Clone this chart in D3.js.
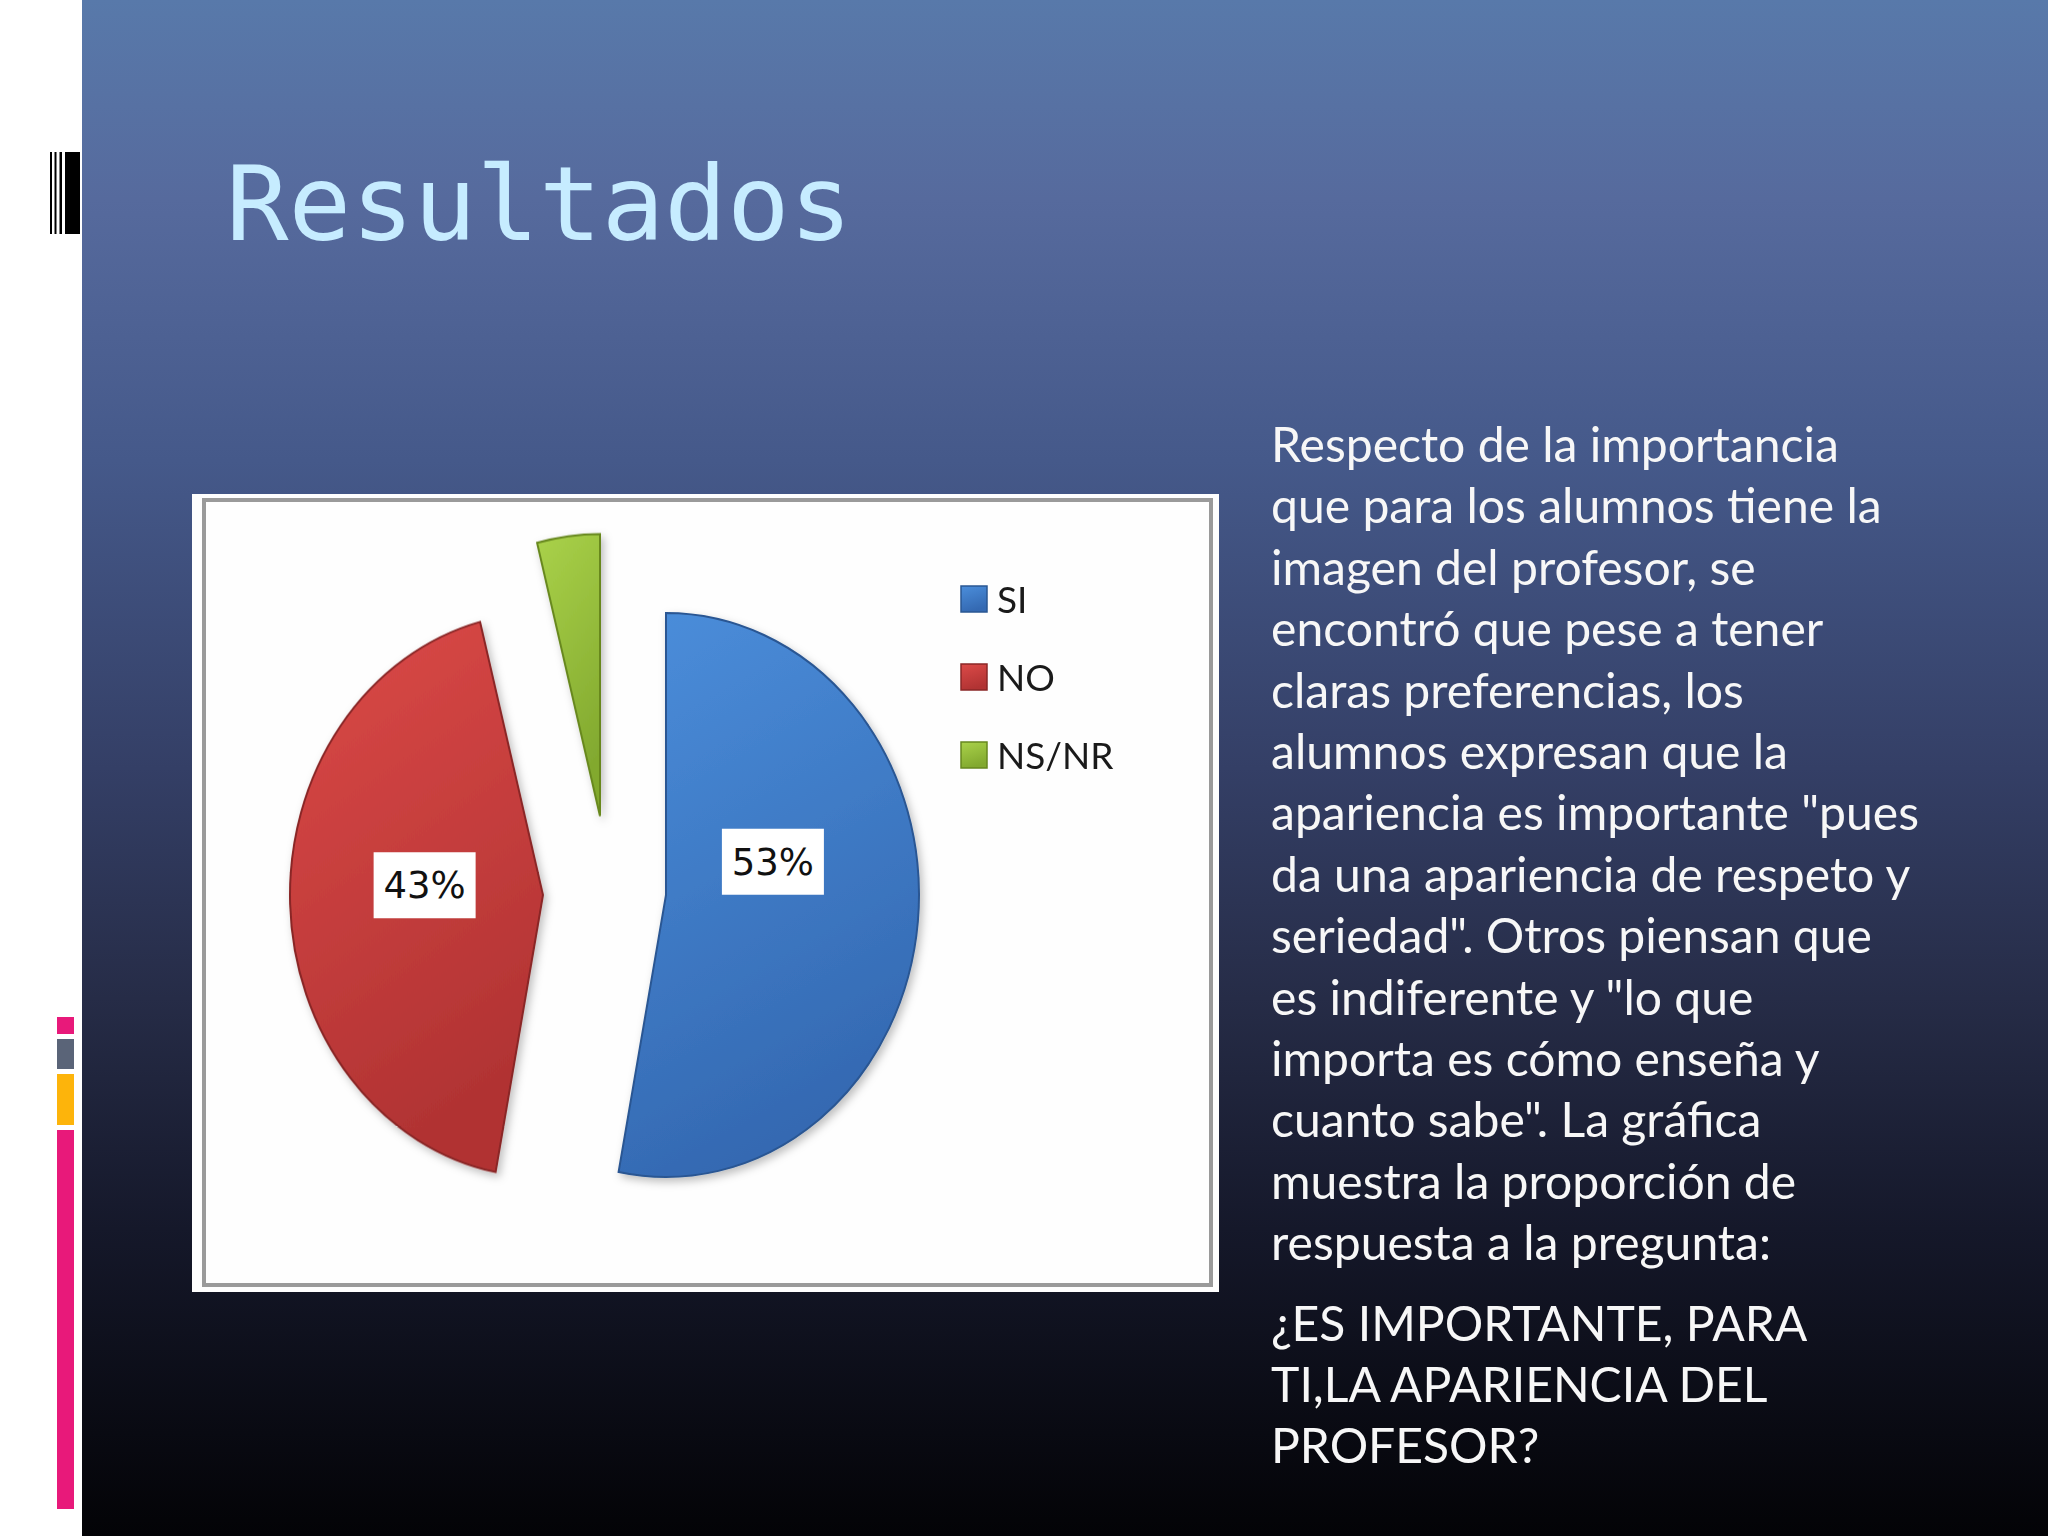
<!DOCTYPE html>
<html>
<head>
<meta charset="utf-8">
<script src="https://cdn.jsdelivr.net/npm/d3@7"></script>
<style>
  html, body { margin: 0; padding: 0; background: #fff; }
  svg { display: block; }
</style>
</head>
<body>
<div id="chart-container"></div>
<script>
// Data.
const categories = ["SI", "NO", "NS/NR"];
const values = [53, 43, 4];
const titleText = "Resultados";
const bodyLines = [
  "Respecto de la importancia",
  "que para los alumnos tiene la",
  "imagen del profesor, se",
  "encontró que pese a tener",
  "claras preferencias, los",
  "alumnos expresan que la",
  "apariencia es importante \"pues",
  "da una apariencia de respeto y",
  "seriedad\". Otros piensan que",
  "es indiferente y \"lo que",
  "importa es cómo enseña y",
  "cuanto sabe\". La gráfica",
  "muestra la proporción de",
  "respuesta a la pregunta:"
];
const questionLines = [
  "¿ES IMPORTANTE, PARA",
  "TI,LA APARIENCIA DEL",
  "PROFESOR?"
];

// Slide dimensions.
const width = 2048;
const height = 1536;

// Slice styles: colours, how far each slice is pulled out, label nudges.
const sliceColor = {
  "SI":    { top: "#4b8edb", bottom: "#3469b2", rim: "#2a5793" },
  "NO":    { top: "#dc4a48", bottom: "#b13333", rim: "#8a2727" },
  "NS/NR": { top: "#aad24a", bottom: "#82a92f", rim: "#67881f" }
};
const explode = { "SI": [66, 0], "NO": [-57, 0], "NS/NR": [0, -79] };
const labelNudge = { "SI": [-14, -29], "NO": [3, 3], "NS/NR": [0, 0] };

const svg = d3.create("svg")
    .attr("width", width)
    .attr("height", height)
    .attr("viewBox", `0 0 ${width} ${height}`);

const defs = svg.append("defs");

// Background gradient.
const bg = defs.append("linearGradient")
    .attr("id", "bg").attr("x1", 0).attr("y1", 0).attr("x2", 0).attr("y2", 1);
[[0, "#5879aa"], [0.13, "#566a9d"], [0.3, "#45598a"], [0.5, "#343f66"],
 [0.65, "#262c47"], [0.8, "#15182a"], [1, "#030306"]]
  .forEach(([o, c]) => bg.append("stop").attr("offset", o).attr("stop-color", c));

categories.forEach((c, i) => {
  const g = defs.append("linearGradient")
      .attr("id", `grad${i}`).attr("x1", 0).attr("y1", 0).attr("x2", 0.3).attr("y2", 1);
  g.append("stop").attr("offset", 0).attr("stop-color", sliceColor[c].top);
  g.append("stop").attr("offset", 1).attr("stop-color", sliceColor[c].bottom);
});

const shadow = defs.append("filter").attr("id", "shadow")
    .attr("x", "-10%").attr("y", "-10%").attr("width", "130%").attr("height", "130%");
shadow.append("feDropShadow")
    .attr("dx", 3).attr("dy", 4).attr("stdDeviation", 4)
    .attr("flood-color", "#000").attr("flood-opacity", 0.25);

// Left white strip and background.
svg.append("rect").attr("width", width).attr("height", height).attr("fill", "#fff");
svg.append("rect").attr("x", 82).attr("y", 0)
    .attr("width", width - 82).attr("height", height).attr("fill", "url(#bg)");

// Black bars next to the title.
[[50, 2], [54.5, 2], [59.5, 2.5], [65, 15]].forEach(([x, w]) => {
  svg.append("rect").attr("x", x).attr("y", 152).attr("width", w).attr("height", 82)
      .attr("fill", "#000");
});

// Coloured bars on the left edge.
[[1017, 17, "#e8197a"], [1039, 30, "#5a6478"], [1074, 51, "#fdb40b"], [1130, 379, "#e8197a"]]
  .forEach(([y, h, c]) => {
    svg.append("rect").attr("x", 57).attr("y", y).attr("width", 17).attr("height", h)
        .attr("fill", c);
  });

// Title.
svg.append("text")
    .attr("x", 226).attr("y", 240)
    .attr("font-family", "DejaVu Sans Mono")
    .attr("font-size", 104)
    .attr("fill", "#c6ecff")
    .text(titleText);

// Chart frame.
svg.append("rect").attr("x", 192).attr("y", 494).attr("width", 1027).attr("height", 798)
    .attr("fill", "#fefefe");
svg.append("rect").attr("x", 204).attr("y", 500).attr("width", 1007).attr("height", 785)
    .attr("fill", "none").attr("stroke", "#9a9a9a").attr("stroke-width", 4);

// Pie.
const cx = 600, cy = 895;
const rx = 253, ry = 282;
const data = categories.map((c, i) => ({ category: c, value: values[i] }));
const pie = d3.pie().sort(null).value(d => d.value);
const arc = d3.arc().innerRadius(0).outerRadius(rx);
const labelArc = d3.arc().innerRadius(0).outerRadius(rx * 0.96);
const total = d3.sum(values);
const fmt = d3.format(".0%");

const arcs = pie(data);

const slices = svg.append("g").attr("filter", "url(#shadow)")
  .selectAll("g")
  .data(arcs)
  .join("g")
    .attr("transform", d => {
      const [ex, ey] = explode[d.data.category];
      return `translate(${cx + ex},${cy + ey}) scale(1,${ry / rx})`;
    });

slices.append("path")
    .attr("d", arc)
    .attr("fill", (d, i) => `url(#grad${i})`)
    .attr("stroke", d => sliceColor[d.data.category].rim)
    .attr("stroke-width", 2)
    .attr("vector-effect", "non-scaling-stroke");

// Data labels (white boxes).
const labels = svg.append("g")
  .selectAll("g")
  .data(arcs.filter(d => d.data.value / total > 0.1))
  .join("g")
    .attr("transform", d => {
      const [ex, ey] = explode[d.data.category];
      const [nx, ny] = labelNudge[d.data.category];
      const [lx, ly] = labelArc.centroid(d);
      return `translate(${cx + ex + lx + nx},${cy + ey + ly * ry / rx - 16 + ny})`;
    });

labels.append("rect")
    .attr("x", -51).attr("y", -34).attr("width", 102).attr("height", 66)
    .attr("fill", "#fff");

labels.append("text")
    .attr("text-anchor", "middle")
    .attr("y", 12)
    .attr("font-family", "DejaVu Sans")
    .attr("font-size", 37)
    .attr("fill", "#111")
    .text(d => fmt(d.data.value / 100));

// Legend.
const ly = d3.scalePoint().domain(categories).range([599, 755]);
const legend = svg.append("g")
  .selectAll("g")
  .data(categories)
  .join("g")
    .attr("transform", d => `translate(961,${ly(d)})`);

legend.append("rect")
    .attr("x", 0).attr("y", -13).attr("width", 26).attr("height", 26)
    .attr("fill", (d, i) => `url(#grad${i})`)
    .attr("stroke", d => sliceColor[d].rim)
    .attr("stroke-width", 1.5);

legend.append("text")
    .attr("x", 36).attr("y", 14)
    .attr("font-family", "Lato")
    .attr("font-size", 37)
    .attr("fill", "#1a1a1a")
    .text(d => d);

// Right-hand text.
const textX = 1271;
const body = svg.append("g")
    .attr("font-family", "Lato")
    .attr("fill", "#f7f7f7");

d3.select("#chart-container").append(() => svg.node());

// Fit the font size so the first line spans its width on the slide.
const probe = body.append("text").attr("font-size", 50).text(bodyLines[0]);
const fs = 50 * 568 / probe.node().getComputedTextLength();
probe.remove();

body.selectAll("text.body")
  .data(bodyLines)
  .join("text")
    .attr("class", "body")
    .attr("x", textX)
    .attr("y", (d, i) => 462 + i * 61.4)
    .attr("font-size", fs)
    .text(d => d);

body.selectAll("text.question")
  .data(questionLines)
  .join("text")
    .attr("class", "question")
    .attr("x", textX)
    .attr("y", (d, i) => 1341 + i * 61)
    .attr("font-size", fs)
    .text(d => d);
</script>
</body>
</html>
